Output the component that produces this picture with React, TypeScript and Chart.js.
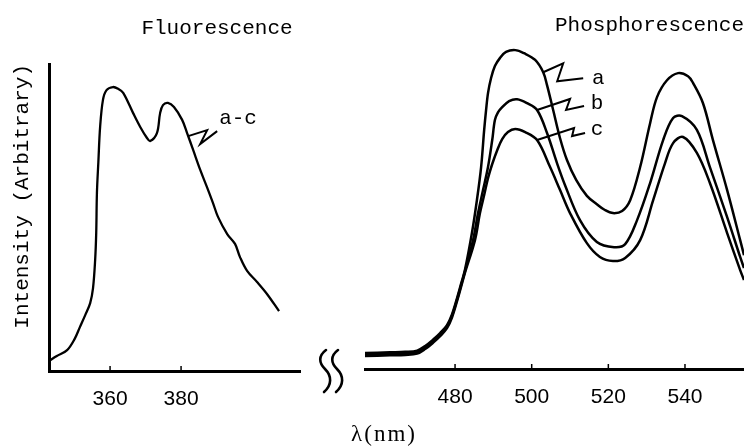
import React, { useEffect, useRef } from 'react';
import { Chart, registerables } from 'chart.js';
Chart.register(...registerables);

// ---------- Data ----------
const fluorTicks = [360, 380];
const phosTicks = [480, 500, 520, 540];

const fluorWavelength = [342.8, 345.0, 347.9, 350.0, 351.5, 353.0, 354.4, 355.2, 355.8, 356.1, 356.3, 356.7, 357.2, 358.0, 359.0, 360.8, 362.3, 363.7, 366.5, 368.5, 370.4, 371.3, 373.2, 374.1, 374.9, 376.3, 378.0, 380.3, 381.7, 383.4, 385.4, 387.3, 389.0, 390.4, 393.0, 395.2, 396.6, 398.6, 401.4, 404.2, 407.6];
const fluorIntensity = [3.3, 4.9, 6.8, 10.4, 14.3, 18.2, 22.1, 27.0, 36.2, 45.0, 58.0, 68.0, 79.5, 88.3, 91.5, 92.5, 91.9, 90.6, 84.0, 79.5, 75.9, 74.9, 77.5, 84.0, 86.6, 87.3, 86.0, 81.8, 77.5, 72.0, 65.5, 59.9, 54.7, 50.2, 44.6, 41.4, 37.1, 32.6, 29.0, 25.1, 19.5];

const phosAWavelength = [456.5, 463.0, 467.0, 470.1, 472.2, 474.3, 476.1, 477.9, 479.2, 480.5, 481.6, 482.6, 484.4, 485.7, 486.8, 487.6, 488.1, 488.6, 489.4, 490.4, 491.7, 493.3, 495.7, 498.0, 500.9, 503.0, 504.0, 505.6, 507.4, 509.2, 511.6, 514.4, 517.0, 519.1, 521.2, 523.6, 525.7, 528.3, 530.9, 532.7, 535.3, 538.2, 540.8, 542.1, 544.7, 547.3, 551.0, 554.4, 555.4];
const phosAIntensity = [5.2, 5.45, 5.6, 6.0, 7.5, 9.6, 11.7, 14.3, 17.8, 23.0, 27.9, 32.4, 44.3, 55.0, 65.8, 77.9, 84.4, 89.9, 94.8, 98.7, 101.3, 103.3, 103.9, 102.9, 100.7, 96.7, 92.5, 84.4, 75.2, 68.1, 61.6, 56.4, 53.7, 51.8, 50.8, 51.5, 55.0, 65.8, 80.1, 88.6, 94.1, 96.4, 95.4, 93.2, 86.6, 74.6, 58.3, 42.0, 37.1];

const phosBWavelength = [456.5, 463.0, 467.0, 470.1, 472.2, 474.3, 476.1, 477.9, 479.2, 480.5, 481.6, 482.6, 484.7, 486.0, 487.3, 488.6, 489.7, 490.4, 491.2, 492.3, 494.1, 496.2, 498.8, 501.4, 504.0, 506.6, 508.7, 512.6, 517.0, 521.5, 524.4, 527.5, 530.9, 534.3, 536.9, 539.2, 543.1, 546.5, 551.0, 554.4, 555.4];
const phosBIntensity = [4.7, 4.95, 5.1, 5.5, 7.0, 9.1, 11.2, 13.8, 17.3, 22.5, 27.4, 31.9, 42.0, 50.8, 58.3, 65.8, 74.6, 81.1, 83.6, 85.3, 87.3, 87.9, 86.6, 84.4, 76.9, 67.1, 59.9, 48.5, 41.4, 39.7, 40.7, 48.5, 60.6, 74.6, 81.8, 82.4, 77.9, 65.8, 49.5, 36.5, 32.9];

const phosCWavelength = [456.5, 463.0, 467.0, 470.1, 472.2, 474.3, 476.1, 477.9, 479.2, 480.5, 481.6, 482.6, 485.2, 486.5, 487.6, 488.6, 489.7, 491.0, 492.3, 493.8, 495.7, 498.3, 501.4, 504.8, 507.4, 510.0, 514.4, 517.8, 521.2, 524.4, 528.3, 531.7, 534.8, 536.9, 539.5, 543.1, 546.5, 551.0, 554.4, 555.4];
const phosCIntensity = [4.2, 4.45, 4.6, 5.0, 6.5, 8.6, 10.7, 13.3, 16.8, 22.0, 26.9, 31.4, 42.0, 50.8, 56.7, 62.2, 66.8, 71.3, 74.9, 77.2, 78.2, 77.2, 74.6, 65.8, 58.3, 50.8, 41.0, 36.5, 35.2, 36.2, 42.0, 55.0, 67.1, 73.6, 75.6, 70.4, 60.6, 44.3, 32.2, 29.0];

// Curve labels: anchor on the curve in data units
const fluorLabelText = ['a-c'];
const fluorLabelAnchorX = [382.0];
const fluorLabelAnchorY = [76.5];
const phosLabelText = ['a', 'b', 'c'];
const phosLabelAnchorX = [503.0, 501.4, 501.4];
const phosLabelAnchorY = [96.7, 84.4, 74.6];

// ---------- Styles ----------
const MONO = "'Liberation Mono', 'Courier New', monospace";
const SANS = "'Liberation Sans', Arial, sans-serif";
const SERIF = "'Liberation Serif', 'Times New Roman', serif";

const fluorLeaderStyle = [
  { path: [[19, -6], [12, 8], [29, -5]], tx: 31, ty: -18, align: 'left' as CanvasTextAlign },
];
const phosLeaderStyle = [
  { path: [[20, -9], [14, 9], [40, 6]], tx: 55, ty: 6, align: 'center' as CanvasTextAlign },
  { path: [[33, -11], [29, 0], [47, -4]], tx: 60, ty: -7, align: 'center' as CanvasTextAlign },
  { path: [[37, -12], [35, -4], [48, -7]], tx: 60, ty: -11, align: 'center' as CanvasTextAlign },
];

function toPoints(xs: number[], ys: number[]) {
  return xs.map((x, i) => ({ x, y: ys[i] }));
}

function leaderPlugin(texts: string[], ax: number[], ay: number[], styles: any[]) {
  return {
    id: 'leaders',
    afterDatasetsDraw(chart: any) {
      const { ctx } = chart;
      const xs = chart.scales.x;
      const ys = chart.scales.y;
      ctx.save();
      ctx.strokeStyle = '#000';
      ctx.fillStyle = '#000';
      ctx.lineWidth = 2;
      ctx.lineJoin = 'miter';
      texts.forEach((t, i) => {
        const px = xs.getPixelForValue(ax[i]);
        const py = ys.getPixelForValue(ay[i]);
        const st = styles[i];
        ctx.beginPath();
        ctx.moveTo(px, py);
        st.path.forEach(([dx, dy]: number[]) => ctx.lineTo(px + dx, py + dy));
        ctx.stroke();
        ctx.font = `21px ${MONO}`;
        ctx.textAlign = st.align;
        ctx.textBaseline = 'middle';
        ctx.fillText(t, px + st.tx, py + st.ty);
      });
      ctx.restore();
    },
  };
}

const innerTicksPlugin = {
  id: 'innerTicks',
  afterDraw(chart: any) {
    const { ctx, chartArea } = chart;
    const xs = chart.scales.x;
    ctx.save();
    ctx.strokeStyle = '#000';
    ctx.lineWidth = 1.5;
    xs.ticks.forEach((t: any) => {
      const px = xs.getPixelForValue(t.value);
      ctx.beginPath();
      ctx.moveTo(px, chartArea.bottom);
      ctx.lineTo(px, chartArea.bottom - 5);
      ctx.stroke();
    });
    ctx.restore();
  },
};

const breakPlugin = {
  id: 'axisBreak',
  afterDraw(chart: any) {
    const { ctx, chartArea } = chart;
    const bx = chartArea.right + 25;
    const by = chartArea.bottom;
    ctx.save();
    ctx.strokeStyle = '#000';
    ctx.lineWidth = 2.6;
    ctx.lineCap = 'round';
    [0, 12].forEach((off) => {
      const x0 = bx + off;
      ctx.beginPath();
      ctx.moveTo(x0 + 1, by - 21);
      ctx.bezierCurveTo(x0 - 7, by - 15, x0 - 6, by - 8, x0, by - 2);
      ctx.bezierCurveTo(x0 + 7, by + 5, x0 + 7, by + 14, x0 - 1, by + 21);
      ctx.stroke();
    });
    ctx.fillStyle = '#000';
    ctx.font = `23px ${SERIF}`;
    ctx.textAlign = 'center';
    ctx.textBaseline = 'middle';
    (ctx as any).letterSpacing = '2px';
    ctx.fillText('λ(nm)', 384, 435);
    ctx.restore();
  },
};

export default function App() {
  const leftRef = useRef<HTMLCanvasElement>(null);
  const rightRef = useRef<HTMLCanvasElement>(null);

  useEffect(() => {
    const hiddenGrid = { display: false, drawTicks: false };
    const axisBorder = { display: true, width: 3, color: '#000' };

    const left = new Chart(leftRef.current!, {
      type: 'scatter',
      data: {
        datasets: [
          {
            data: toPoints(fluorWavelength, fluorIntensity),
            showLine: true,
            borderColor: '#000',
            borderWidth: 2.3,
            pointRadius: 0,
            tension: 0.35,
            fill: false,
          } as any,
        ],
      },
      options: {
        responsive: false,
        animation: false,
        events: [],
        layout: { padding: { left: 0, right: 310, top: 0, bottom: 0 } },
        plugins: {
          legend: { display: false },
          tooltip: { enabled: false },
          title: {
            display: true,
            text: 'Fluorescence',
            align: 'center',
            color: '#000',
            font: { family: MONO, size: 21, weight: 'normal' },
            padding: { top: 16, bottom: 22.8 },
          },
        },
        scales: {
          x: {
            type: 'linear',
            position: 'bottom',
            min: 342.8,
            max: 413.5,
            grid: hiddenGrid,
            border: axisBorder,
            afterBuildTicks: (axis: any) => {
              axis.ticks = fluorTicks.map((v) => ({ value: v }));
            },
            afterFit: (s: any) => {
              s.height = 76;
            },
            ticks: {
              color: '#000',
              font: { family: SANS, size: 21 },
              padding: 16,
              maxRotation: 0,
              callback: (v: any) => String(v),
            },
          },
          y: {
            type: 'linear',
            position: 'left',
            min: 0,
            max: 100,
            grid: hiddenGrid,
            border: axisBorder,
            ticks: { display: false },
            afterFit: (s: any) => {
              s.width = 49;
            },
            title: {
              display: true,
              text: 'Intensity (Arbitrary)',
              align: 'end',
              color: '#000',
              font: { family: MONO, size: 21 },
              padding: { top: 10, bottom: 0 },
            },
          },
          y2: {
            type: 'linear',
            position: 'right',
            display: true,
            grid: hiddenGrid,
            border: { display: false },
            ticks: { display: false },
            afterFit: (s: any) => {
              s.width = 134;
            },
          },
        },
      } as any,
      plugins: [
        leaderPlugin(fluorLabelText, fluorLabelAnchorX, fluorLabelAnchorY, fluorLeaderStyle),
        innerTicksPlugin,
        breakPlugin,
      ],
    });

    const lineStyle = {
      showLine: true,
      borderColor: '#000',
      borderWidth: 2.5,
      pointRadius: 0,
      tension: 0.35,
      fill: false,
    };

    const right = new Chart(rightRef.current!, {
      type: 'scatter',
      data: {
        datasets: [
          { data: toPoints(phosAWavelength, phosAIntensity), ...lineStyle } as any,
          { data: toPoints(phosBWavelength, phosBIntensity), ...lineStyle } as any,
          { data: toPoints(phosCWavelength, phosCIntensity), ...lineStyle } as any,
        ],
      },
      options: {
        responsive: false,
        animation: false,
        events: [],
        layout: { padding: 0 },
        plugins: {
          legend: { display: false },
          tooltip: { enabled: false },
          title: {
            display: true,
            text: 'Phosphorescence',
            align: 'end',
            color: '#000',
            font: { family: MONO, size: 21, weight: 'normal' },
            padding: { top: 13, bottom: 1.8 },
          },
        },
        scales: {
          x: {
            type: 'linear',
            position: 'bottom',
            min: 456.5,
            max: 555.4,
            grid: hiddenGrid,
            border: axisBorder,
            afterBuildTicks: (axis: any) => {
              axis.ticks = phosTicks.map((v) => ({ value: v }));
            },
            afterFit: (s: any) => {
              s.height = 78;
            },
            ticks: {
              color: '#000',
              font: { family: SANS, size: 21 },
              padding: 16,
              maxRotation: 0,
              callback: (v: any) => String(v),
            },
          },
          y: {
            type: 'linear',
            position: 'left',
            min: 0,
            max: 107.2,
            grid: hiddenGrid,
            border: { display: false },
            ticks: { display: false },
            afterFit: (s: any) => {
              s.width = 365;
            },
          },
        },
      } as any,
      plugins: [
        leaderPlugin(phosLabelText, phosLabelAnchorX, phosLabelAnchorY, phosLeaderStyle),
        innerTicksPlugin,
      ],
    });

    return () => {
      left.destroy();
      right.destroy();
    };
  }, []);

  return (
    <div style={{ position: 'absolute', left: 0, top: 0, width: 744, height: 447, background: '#fff' }}>
      <canvas ref={leftRef} width={744} height={447} style={{ position: 'absolute', left: 0, top: 0 }} />
      <canvas ref={rightRef} width={744} height={447} style={{ position: 'absolute', left: 0, top: 0 }} />
    </div>
  );
}
